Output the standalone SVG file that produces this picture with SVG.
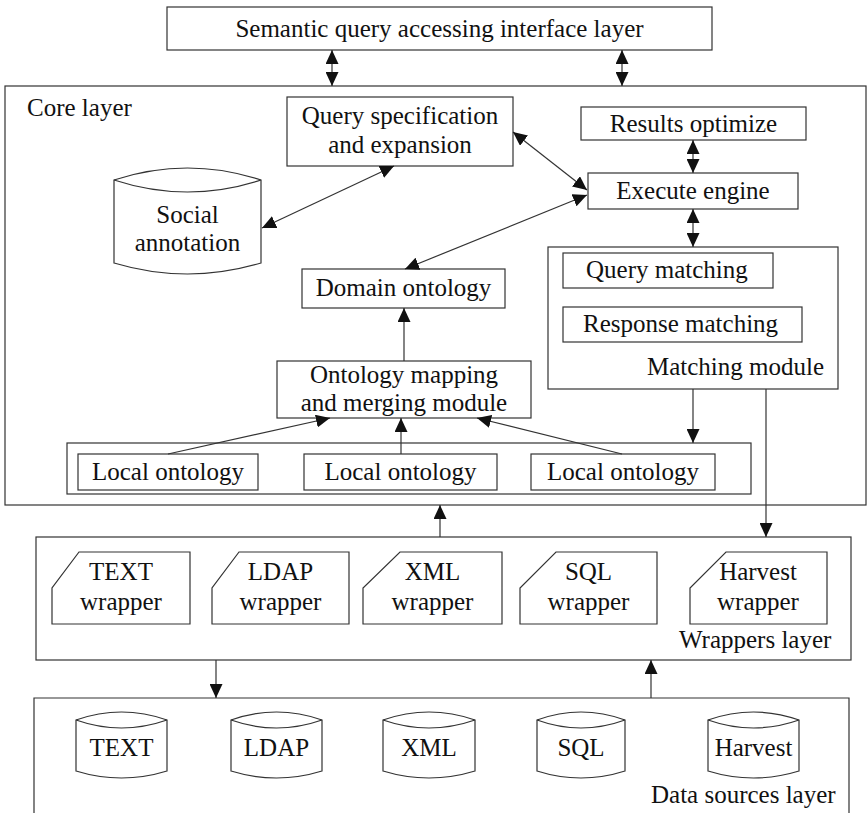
<svg xmlns="http://www.w3.org/2000/svg" width="868" height="813" viewBox="0 0 868 813">
<defs>
<marker id="ah" markerUnits="userSpaceOnUse" markerWidth="14" markerHeight="13" viewBox="0 0 14 13" refX="14" refY="6.5" orient="auto-start-reverse">
<path d="M0,0 L14,6.5 L0,13 z" fill="#111"/>
</marker>
<style>
.b{fill:#fff;stroke:#333;stroke-width:1.2}
.o{fill:none;stroke:#333;stroke-width:1.2}
.t{font-family:"Liberation Serif","Times New Roman",serif;font-size:25px;fill:#111;text-anchor:middle}
.s{font-family:"Liberation Serif","Times New Roman",serif;font-size:25px;fill:#111}
.c{fill:none;stroke:#333;stroke-width:1.2}
.c2{fill:none;stroke:#333;stroke-width:1.2;marker-end:url(#ah)}
.c3{fill:none;stroke:#333;stroke-width:1.2;marker-end:url(#ah);marker-start:url(#ah)}
</style>
</defs>
<rect width="868" height="813" fill="#fff"/>

<g id="top-layer">
<rect class="b" x="167" y="7" width="545" height="43"/>
<text class="t" x="439.5" y="37">Semantic query accessing interface layer</text>
</g>

<g id="core-layer">
<rect class="o" x="5" y="86" width="861" height="419"/>
<text class="s" x="27" y="116">Core layer</text>
</g>

<g id="query-spec">
<rect class="b" x="287" y="97" width="226" height="69"/>
<text class="t" x="400" y="124">Query specification</text>
<text class="t" x="400" y="153">and expansion</text>
</g>

<g id="social-annotation">
<path class="b" d="M114,180 L114,263 Q187.5,285 261,263 L261,180 Q187.5,156 114,180 Z"/>
<path class="o" d="M114,180 Q187.5,204 261,180"/>
<text class="t" x="187.5" y="223">Social</text>
<text class="t" x="187.5" y="251">annotation</text>
</g>

<g id="results-optimize">
<rect class="b" x="581" y="107" width="225" height="33"/>
<text class="t" x="693.5" y="132">Results optimize</text>
</g>

<g id="execute-engine">
<rect class="b" x="588" y="173" width="210" height="36"/>
<text class="t" x="693" y="199">Execute engine</text>
</g>

<g id="domain-ontology">
<rect class="b" x="302" y="269" width="203" height="39"/>
<text class="t" x="403.5" y="296">Domain ontology</text>
</g>

<g id="ontology-mapping">
<rect class="b" x="277" y="361" width="254" height="57"/>
<text class="t" x="404" y="383">Ontology mapping</text>
<text class="t" x="404" y="411">and merging module</text>
</g>

<g id="matching-module">
<rect class="b" x="548" y="247" width="290" height="142"/>
<text class="s" x="647" y="375">Matching module</text>
</g>

<g id="query-matching">
<rect class="b" x="563" y="253" width="210" height="35"/>
<text class="s" x="586" y="278">Query matching</text>
</g>

<g id="response-matching">
<rect class="b" x="563" y="307" width="239" height="35"/>
<text class="s" x="583" y="332">Response matching</text>
</g>

<g id="local-ontologies">
<rect class="b" x="67" y="443" width="684" height="51"/>
</g>
<g id="local-ontology-1">
<rect class="b" x="78" y="454" width="180" height="36"/>
<text class="t" x="168" y="480">Local ontology</text>
</g>
<g id="local-ontology-2">
<rect class="b" x="304" y="454" width="193" height="36"/>
<text class="t" x="400.5" y="480">Local ontology</text>
</g>
<g id="local-ontology-3">
<rect class="b" x="531" y="454" width="184" height="36"/>
<text class="t" x="623" y="480">Local ontology</text>
</g>

<g id="wrappers-layer">
<rect class="o" x="36" y="537" width="815" height="123"/>
<text class="s" x="679" y="648">Wrappers layer</text>
</g>

<g id="text-wrapper">
<path class="b" d="M79,552 L190,552 L190,624 L52,624 L52,588 Z"/>
<text class="t" x="121" y="580">TEXT</text>
<text class="t" x="121" y="610">wrapper</text>
</g>
<g id="ldap-wrapper">
<path class="b" d="M239,552 L349,552 L349,624 L212,624 L212,588 Z"/>
<text class="t" x="280.5" y="580">LDAP</text>
<text class="t" x="280.5" y="610">wrapper</text>
</g>
<g id="xml-wrapper">
<path class="b" d="M400,552 L502,552 L502,624 L363,624 L363,588 Z"/>
<text class="t" x="432.5" y="580">XML</text>
<text class="t" x="432.5" y="610">wrapper</text>
</g>
<g id="sql-wrapper">
<path class="b" d="M556,552 L657,552 L657,624 L520,624 L520,588 Z"/>
<text class="t" x="588.5" y="580">SQL</text>
<text class="t" x="588.5" y="610">wrapper</text>
</g>
<g id="harvest-wrapper">
<path class="b" d="M726,552 L827,552 L827,624 L690,624 L690,588 Z"/>
<text class="t" x="758" y="580">Harvest</text>
<text class="t" x="758" y="610">wrapper</text>
</g>

<g id="data-sources-layer">
<path class="o" d="M34,813 L34,698 L849,698 L849,813"/>
<text class="s" x="651" y="803">Data sources layer</text>
</g>

<g id="text-db">
<path class="b" d="M76,720 L76,771 Q121.5,785 167,771 L167,720 Q121.5,704 76,720 Z"/>
<path class="o" d="M76,720 Q121.5,736 167,720"/>
<text class="t" x="121.5" y="756">TEXT</text>
</g>
<g id="ldap-db">
<path class="b" d="M231,720 L231,771 Q276.5,785 322,771 L322,720 Q276.5,704 231,720 Z"/>
<path class="o" d="M231,720 Q276.5,736 322,720"/>
<text class="t" x="276.5" y="756">LDAP</text>
</g>
<g id="xml-db">
<path class="b" d="M383,720 L383,771 Q429,785 475,771 L475,720 Q429,704 383,720 Z"/>
<path class="o" d="M383,720 Q429,736 475,720"/>
<text class="t" x="429" y="756">XML</text>
</g>
<g id="sql-db">
<path class="b" d="M537,720 L537,771 Q581,785 625,771 L625,720 Q581,704 537,720 Z"/>
<path class="o" d="M537,720 Q581,736 625,720"/>
<text class="t" x="581" y="756">SQL</text>
</g>
<g id="harvest-db">
<path class="b" d="M708,720 L708,771 Q753.5,785 799,771 L799,720 Q753.5,704 708,720 Z"/>
<path class="o" d="M708,720 Q753.5,736 799,720"/>
<text class="t" x="753.5" y="756">Harvest</text>
</g>

<g id="connectors">
<line class="c3" x1="332" y1="50" x2="332" y2="86"/>
<line class="c3" x1="622" y1="50" x2="622" y2="86"/>
<line class="c3" x1="693" y1="140" x2="693" y2="173"/>
<line class="c3" x1="693" y1="209" x2="693" y2="247"/>
<line class="c3" x1="394" y1="166" x2="262" y2="228"/>
<line class="c3" x1="513" y1="132" x2="587" y2="190"/>
<line class="c3" x1="587" y1="195" x2="405" y2="269"/>
<line class="c2" x1="404" y1="361" x2="404" y2="308"/>
<line class="c2" x1="168" y1="454" x2="330" y2="418"/>
<line class="c2" x1="401" y1="454" x2="401" y2="418"/>
<line class="c2" x1="622" y1="454" x2="477" y2="418"/>
<line class="c2" x1="693" y1="389" x2="693" y2="443"/>
<line class="c2" x1="766" y1="389" x2="766" y2="537"/>
<line class="c2" x1="440" y1="537" x2="440" y2="505"/>
<line class="c2" x1="216" y1="660" x2="216" y2="698"/>
<line class="c2" x1="651" y1="698" x2="651" y2="660"/>
</g>
</svg>
